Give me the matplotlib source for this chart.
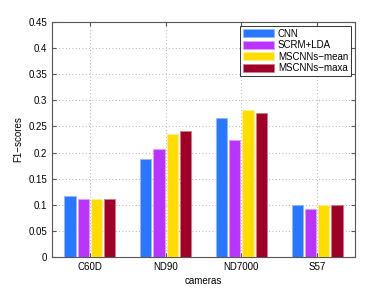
#!/usr/bin/env python3
# Grouped bar chart of F1-scores per camera model
import matplotlib
matplotlib.use("Agg")
import matplotlib.pyplot as plt
import numpy as np

cameras = ["C60D", "ND90", "ND7000", "S57"]
methods = ["CNN", "SCRM+LDA", "MSCNNs\u2212mean", "MSCNNs\u2212maxa"]
cnn = [0.116, 0.188, 0.266, 0.099]
scrm_lda = [0.111, 0.207, 0.225, 0.091]
mscnn_mean = [0.112, 0.236, 0.282, 0.100]
mscnn_maxa = [0.112, 0.242, 0.276, 0.100]

colors = ["#2878ff", "#bb33ff", "#ffdd00", "#a00028"]
edges = ["#8fb8ff", "#dca0ff", "#fff08a", "#d07a8a"]

plt.rcParams['font.family'] = ['Liberation Sans', 'DejaVu Sans']

fig = plt.figure(figsize=(3.92, 2.89), dpi=100)
ax = fig.add_axes([0.1327, 0.1107, 0.7729, 0.8132])

x = np.arange(1, len(cameras) + 1)
slot = 0.175
series = [cnn, scrm_lda, mscnn_mean, mscnn_maxa]
for i, vals in enumerate(series):
    ax.bar(x + (i - 1.5) * slot, vals, width=0.15, color=colors[i],
           edgecolor=edges[i], linewidth=0.6, label=methods[i], zorder=3)

ax.set_xlim(0.5, 4.5)
ax.set_ylim(0, 0.45)
ax.set_xticks(x)
ax.set_xticklabels(cameras)
yt = np.arange(0, 0.451, 0.05)
ax.set_yticks(yt)
ax.set_yticklabels(["0", "0.05", "0.1", "0.15", "0.2", "0.25", "0.3",
                    "0.35", "0.4", "0.45"])
ax.tick_params(direction="in", labelsize=7, length=3, color="#555555",
               top=True, right=True)
ax.grid(True, linestyle=(0, (1, 3)), color="#999999", linewidth=0.6, zorder=0)
for s in ax.spines.values():
    s.set_color("#555555")
    s.set_linewidth(0.8)

ax.set_xlabel("cameras", fontsize=7, labelpad=3)
ax.set_ylabel("F1\u2212scores", fontsize=7, labelpad=4)

leg = ax.legend(loc="upper right", fontsize=7, frameon=True, fancybox=False,
                borderpad=0.3, labelspacing=0.15, handlelength=3.2,
                handleheight=0.9, handletextpad=0.4, borderaxespad=0.4)
leg.get_frame().set_edgecolor("black")
leg.get_frame().set_linewidth(0.7)

fig.savefig("out.png", dpi=100)
